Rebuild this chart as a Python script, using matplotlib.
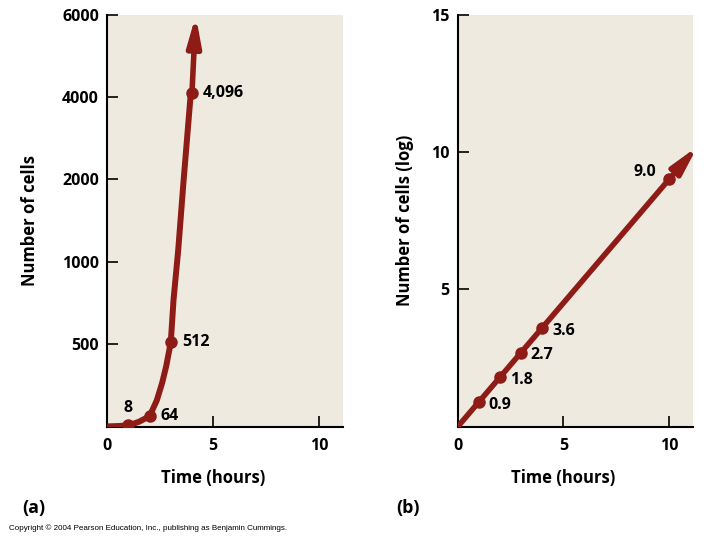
import numpy as np
import matplotlib
matplotlib.use('Agg')
import matplotlib.pyplot as plt
import matplotlib.transforms as mtrans

# (a) exponential growth
hours_curve = [0, 0.5, 1, 1.5, 2, 2.34, 2.59, 2.78, 3, 3.13, 3.35, 3.61, 3.93, 4]
cells_curve = [2, 4, 8, 30, 64, 160, 265, 365, 512, 770, 1140, 2000, 4000, 4096]
hours_pts = [1, 2, 3, 4]
cells_pts = [8, 64, 512, 4096]
cells_labels = ['8', '64', '512', '4,096']
tip_a = (4.18, 5980)
yticks_a = [500, 1000, 2000, 4000, 6000]
scale_vals = [0, 500, 1000, 2000, 4000, 6000]

# (b) same growth on log axis
hours_b = [0, 1, 2, 3, 4, 10]
log_b = [0, 0.9, 1.8, 2.7, 3.6, 9.0]
log_labels = ['0.9', '1.8', '2.7', '3.6', '9.0']
tip_b = (11.35, 10.2)
yticks_b = [5, 10, 15]
xticks = [0, 5, 10]

red = '#8E1B16'
beige = '#EEEAE0'
plt.rcParams['font.family'] = ['Open Sans', 'DejaVu Sans']
plt.rcParams['font.weight'] = 'bold'

fig = plt.figure(figsize=(7.2, 5.4), dpi=100)
axa = fig.add_axes([0.149, 0.2098, 0.3278, 0.7633])
axb = fig.add_axes([0.6357, 0.2098, 0.3272, 0.7633])

pos = np.arange(len(scale_vals))
def fwd(v):
    return np.interp(v, scale_vals, pos)
def inv(p):
    return np.interp(p, pos, scale_vals)

arrow_style = '-|>,head_length=0.85,head_width=0.2'

for ax in (axa, axb):
    ax.set_facecolor(beige)
    for s in ('top', 'right'):
        ax.spines[s].set_visible(False)
    for s in ('left', 'bottom'):
        ax.spines[s].set_linewidth(1.5)
    ax.tick_params(direction='in', length=8, width=1.2, labelsize=11.5)
    ax.tick_params(axis='x', pad=8)
    ax.tick_params(axis='y', pad=6)
    ax.set_xlim(0, 11.15)
    ax.set_xticks(xticks)
    ax.set_xticklabels([str(t) for t in xticks], fontweight='bold')
    tr = mtrans.blended_transform_factory(ax.transData, ax.transAxes)
    ax.text(5, -0.125, 'Time (hours)', transform=tr, ha='center', va='center',
            fontsize=12, fontweight='bold')

# panel a
axa.set_yscale('function', functions=(fwd, inv))
axa.set_ylim(0, 6000)
axa.set_yticks(yticks_a)
axa.set_yticklabels([str(t) for t in yticks_a], fontweight='bold')
axa.yaxis.set_minor_locator(matplotlib.ticker.NullLocator())
axa.plot(hours_curve, cells_curve, color=red, lw=4.3, solid_capstyle='butt', zorder=3)
axa.plot(hours_pts, cells_pts, 'o', color=red, ms=8, zorder=4)
axa.annotate('', xy=tip_a, xytext=(hours_curve[-1], cells_curve[-1]),
             annotation_clip=False,
             arrowprops=dict(arrowstyle=arrow_style, color=red, lw=4.0,
                             shrinkA=0, shrinkB=0, mutation_scale=20), zorder=3)
offs_a = [(0, 7, 'center', 'bottom'), (8, 0, 'left', 'center'),
          (8, 0, 'left', 'center'), (8, 0, 'left', 'center')]
for x, y, lab, (dx, dy, ha, va) in zip(hours_pts, cells_pts, cells_labels, offs_a):
    axa.annotate(lab, (x, y), xytext=(dx, dy), textcoords='offset points',
                 ha=ha, va=va, fontsize=11.5, fontweight='bold')
axa.text(-0.3275, 0.5, 'Number of cells', transform=axa.transAxes, rotation=90,
         ha='center', va='center', fontsize=12, fontweight='bold')

# panel b
axb.set_ylim(0, 15)
axb.set_yticks(yticks_b)
axb.set_yticklabels([str(t) for t in yticks_b], fontweight='bold')
axb.plot(hours_b, log_b, color=red, lw=4.0, solid_capstyle='butt', zorder=3)
axb.plot(hours_b[1:], log_b[1:], 'o', color=red, ms=8, zorder=4)
axb.annotate('', xy=tip_b, xytext=(hours_b[-1], log_b[-1]),
             annotation_clip=False,
             arrowprops=dict(arrowstyle=arrow_style, color=red, lw=3.6,
                             shrinkA=0, shrinkB=0, mutation_scale=20), zorder=3)
for x, y, lab in zip(hours_b[1:], log_b[1:], log_labels):
    if lab == '9.0':
        axb.annotate(lab, (x, y), xytext=(-9, 5), textcoords='offset points',
                     ha='right', va='center', fontsize=11.5, fontweight='bold')
    else:
        axb.annotate(lab, (x, y), xytext=(7, -2), textcoords='offset points',
                     ha='left', va='center', fontsize=11.5, fontweight='bold')
axb.text(-0.2237, 0.5, 'Number of cells (log)', transform=axb.transAxes, rotation=90,
         ha='center', va='center', fontsize=12, fontweight='bold')

fig.text(22 / 720, 1 - 507.5 / 540, '(a)', ha='left', va='center', fontsize=13, fontweight='bold')
fig.text(396 / 720, 1 - 507.5 / 540, '(b)', ha='left', va='center', fontsize=13, fontweight='bold')
fig.text(9 / 720, 1 - 528 / 540,
         'Copyright \u00a9 2004 Pearson Education, Inc., publishing as Benjamin Cummings.',
         ha='left', va='center', fontsize=5.8, fontweight='normal', family='Liberation Sans')

fig.savefig('out.png', dpi=100)
